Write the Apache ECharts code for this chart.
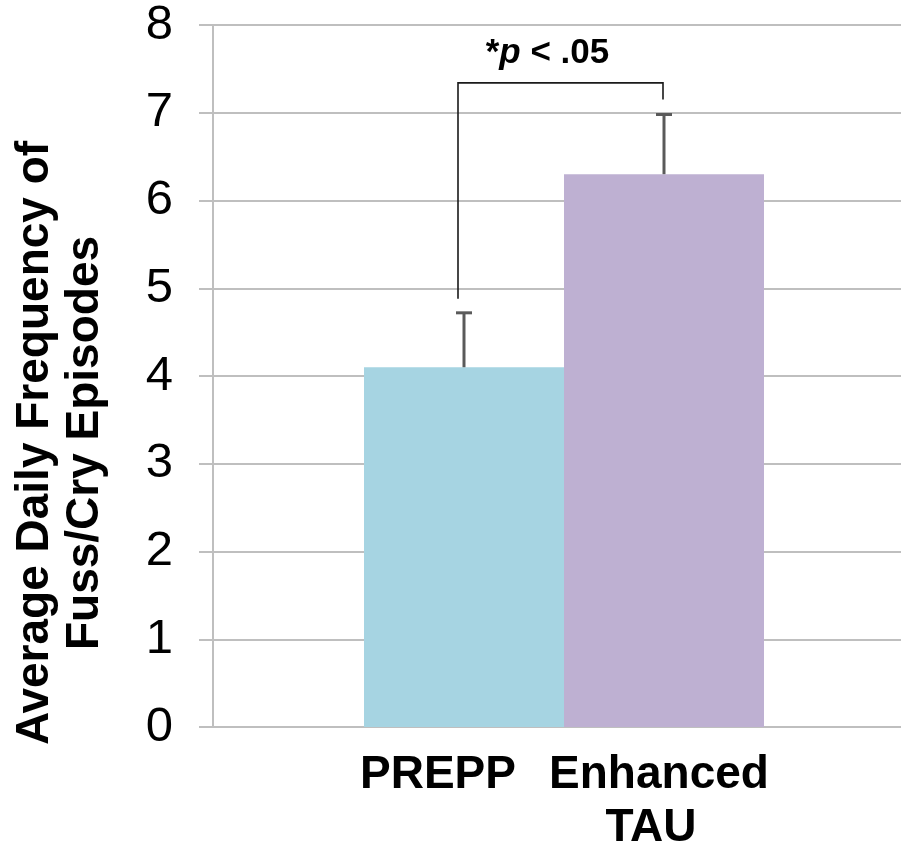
<!DOCTYPE html>
<html>
<head>
<meta charset="utf-8">
<script src="https://cdn.jsdelivr.net/npm/echarts@6/dist/echarts.min.js"></script>
<style>
html,body{margin:0;padding:0;background:#fff;}
#chart{width:901px;height:851px;}
</style>
</head>
<body>
<div id="chart"></div>
<script>
// ---- data ----
const groups = ['PREPP', 'Enhanced TAU'];
const means = [4.1, 6.3];
const errorUpper = [4.72, 6.98];
const yTickValues = [0, 1, 2, 3, 4, 5, 6, 7, 8];
const bracketTop = 7.34;
const bracketEnds = [4.88, 7.15];
const sigText = '*p < .05';
const yTitle = 'Average Daily Frequency of\nFuss/Cry Episodes';

// ---- styles ----
const FONT = '"Liberation Sans", Arial, Helvetica, sans-serif';
const BAR_WIDTH = 200;
const colors = ['#A6D4E2', '#BEB0D2'];
const gridColor = '#BFBFBF';

const chart = echarts.init(document.getElementById('chart'), null, {renderer: 'canvas'});

const labelFont = {color: '#000', fontFamily: FONT, fontWeight: 'bold', fontSize: 46, lineHeight: 53};

const barSeries = groups.map((g, i) => ({
  type: 'bar',
  name: g,
  data: [means[i]],
  barWidth: BAR_WIDTH,
  barGap: '0%',
  itemStyle: {color: colors[i]},
  z: 2,
  label: Object.assign({
    show: true,
    position: 'bottom',
    distance: 22,
    offset: i === 0 ? [-26, 0] : [-5, 0],
    formatter: (p) => p.seriesName.split(' ').map((w, k) => k === 0 ? '{a|' + w + '}' : '{b|' + w + '}').join('\n'),
    rich: {
      a: Object.assign({}, labelFont),
      b: Object.assign({padding: [0, 16, 0, 0]}, labelFont)
    }
  }, labelFont)
}));

const errorSeries = {
  type: 'custom',
  name: 'error',
  z: 5,
  silent: true,
  data: means.map((m, i) => [0, m, errorUpper[i], i]),
  renderItem: (params, api) => {
    const base = api.coord([api.value(0), api.value(1)]);
    const top = api.coord([api.value(0), api.value(2)]);
    const idx = api.value(3);
    const x = base[0] + (idx - 0.5) * BAR_WIDTH;
    const style = {stroke: '#5A5A5A', lineWidth: 3};
    return {
      type: 'group',
      children: [
        {type: 'line', shape: {x1: x, y1: base[1], x2: x, y2: top[1]}, style},
        {type: 'line', shape: {x1: x - 8, y1: top[1], x2: x + 8, y2: top[1]}, style}
      ]
    };
  }
};

const bracketSeries = {
  type: 'custom',
  name: 'bracket',
  z: 6,
  silent: true,
  data: [[0, bracketTop, bracketEnds[0], bracketEnds[1]]],
  renderItem: (params, api) => {
    const t = api.coord([api.value(0), api.value(1)]);
    const l = api.coord([api.value(0), api.value(2)]);
    const r = api.coord([api.value(0), api.value(3)]);
    const xl = t[0] - BAR_WIDTH / 2 - 6;
    const xr = t[0] + BAR_WIDTH / 2 - 1;
    const style = {stroke: '#1a1a1a', lineWidth: 1.6, fill: null};
    const parts = sigText.split('p');
    return {
      type: 'group',
      children: [
        {type: 'polyline', shape: {points: [[xl, l[1]], [xl, t[1]], [xr, t[1]], [xr, r[1]]]}, style},
        {
          type: 'text',
          x: (xl + xr) / 2 - 13,
          y: t[1] - 30,
          style: {
            text: parts[0] + '{i|p}' + parts[1],
            align: 'center',
            verticalAlign: 'middle',
            fontFamily: FONT,
            fontWeight: 'bold',
            fontSize: 35,
            fill: '#000',
            rich: {
              i: {fontFamily: FONT, fontWeight: 'bold', fontStyle: 'italic', fontSize: 35, fill: '#000'}
            }
          }
        }
      ]
    };
  }
};

const option = {
  backgroundColor: '#fff',
  animation: false,
  grid: {left: 213, right: -14, top: 25, bottom: 124, containLabel: false, outerBoundsMode: 'none'},
  xAxis: {
    type: 'category',
    data: [''],
    axisLine: {show: true, lineStyle: {color: gridColor, width: 2}},
    axisTick: {show: false},
    axisLabel: {show: false},
    splitLine: {show: false}
  },
  yAxis: {
    type: 'value',
    min: yTickValues[0],
    max: yTickValues[yTickValues.length - 1],
    interval: 1,
    axisLine: {show: true, lineStyle: {color: gridColor, width: 2}},
    axisTick: {show: true, inside: false, length: 14, lineStyle: {color: gridColor, width: 2}},
    axisLabel: {
      margin: 40,
      color: '#000',
      fontFamily: FONT,
      fontSize: 49,
      formatter: (v) => yTickValues.includes(v) ? String(v) : ''
    },
    splitLine: {show: true, lineStyle: {color: gridColor, width: 2}}
  },
  graphic: [{
    type: 'text',
    x: 60,
    y: 443,
    rotation: Math.PI / 2,
    style: {
      text: yTitle,
      align: 'center',
      verticalAlign: 'middle',
      fontFamily: FONT,
      fontWeight: 'bold',
      fontSize: 46,
      lineHeight: 50,
      fill: '#000'
    }
  }],
  series: [...barSeries, errorSeries, bracketSeries]
};

chart.setOption(option);
</script>
</body>
</html>
